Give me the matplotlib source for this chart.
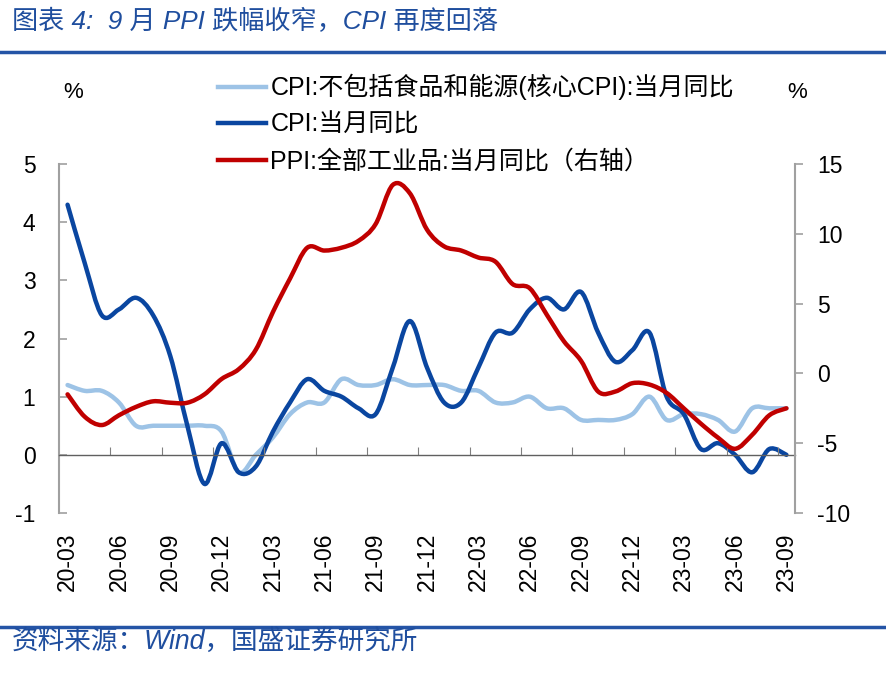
import matplotlib
matplotlib.use("Agg")
import matplotlib.pyplot as plt
from matplotlib.path import Path
from matplotlib.patches import PathPatch
import numpy as np

plt.rcParams['font.family'] = ['Liberation Sans', 'Noto Sans CJK SC', 'DejaVu Sans']
plt.rcParams['axes.unicode_minus'] = False

# 月份：2020-03 至 2023-09
months = ['20-03', '20-04', '20-05', '20-06', '20-07', '20-08', '20-09', '20-10', '20-11', '20-12',
          '21-01', '21-02', '21-03', '21-04', '21-05', '21-06', '21-07', '21-08', '21-09', '21-10',
          '21-11', '21-12', '22-01', '22-02', '22-03', '22-04', '22-05', '22-06', '22-07', '22-08',
          '22-09', '22-10', '22-11', '22-12', '23-01', '23-02', '23-03', '23-04', '23-05', '23-06',
          '23-07', '23-08', '23-09']

core_cpi = [1.2, 1.1, 1.1, 0.9, 0.5, 0.5, 0.5, 0.5, 0.5, 0.4,
            -0.3, 0.0, 0.3, 0.7, 0.9, 0.9, 1.3, 1.2, 1.2, 1.3,
            1.2, 1.2, 1.2, 1.1, 1.1, 0.9, 0.9, 1.0, 0.8, 0.8,
            0.6, 0.6, 0.6, 0.7, 1.0, 0.6, 0.7, 0.7, 0.6, 0.4,
            0.8, 0.8, 0.8]

cpi = [4.3, 3.3, 2.4, 2.5, 2.7, 2.4, 1.7, 0.5, -0.5, 0.2,
       -0.3, -0.2, 0.4, 0.9, 1.3, 1.1, 1.0, 0.8, 0.7, 1.5,
       2.3, 1.5, 0.9, 0.9, 1.5, 2.1, 2.1, 2.5, 2.7, 2.5,
       2.8, 2.1, 1.6, 1.8, 2.1, 1.0, 0.7, 0.1, 0.2, 0.0,
       -0.3, 0.1, 0.0]

ppi = [-1.5, -3.1, -3.7, -3.0, -2.4, -2.0, -2.1, -2.1, -1.5, -0.4,
       0.3, 1.7, 4.4, 6.8, 9.0, 8.8, 9.0, 9.5, 10.7, 13.5,
       12.9, 10.3, 9.1, 8.8, 8.3, 8.0, 6.4, 6.1, 4.2, 2.3,
       0.9, -1.3, -1.3, -0.7, -0.8, -1.4, -2.5, -3.6, -4.6, -5.4,
       -4.4, -3.0, -2.5]

C_CORE = '#9DC3E6'
C_CPI = '#0A46A0'
C_PPI = '#C00000'
C_TITLE = '#1F4E9E'


def smooth_path(xs, ys):
    # 类似 Excel 平滑线：Catmull-Rom 转三次贝塞尔
    pts = np.column_stack([xs, ys]).astype(float)
    n = len(pts)
    verts = [pts[0]]
    codes = [Path.MOVETO]
    for i in range(n - 1):
        p0 = pts[i - 1] if i > 0 else pts[i]
        p1 = pts[i]
        p2 = pts[i + 1]
        p3 = pts[i + 2] if i + 2 < n else pts[i + 1]
        c1 = p1 + (p2 - p0) / 6.0
        c2 = p2 - (p3 - p1) / 6.0
        verts += [c1, c2, p2]
        codes += [Path.CURVE4] * 3
    return Path(verts, codes)


def add_line(ax, xs, ys, color, lw, label):
    patch = PathPatch(smooth_path(xs, ys), facecolor='none', edgecolor=color,
                      lw=lw, capstyle='round', joinstyle='round')
    ax.add_patch(patch)
    # 图例用的代理线
    ax.plot([], [], color=color, lw=lw, label=label)


fig = plt.figure(figsize=(8.86, 6.76), dpi=100)
ax = fig.add_axes([59 / 886, 1 - 513 / 676, (795 - 59) / 886, (513 - 164) / 676])
ax2 = ax.twinx()

x = np.arange(len(months))
add_line(ax, x, core_cpi, C_CORE, 3.2, 'CPI:不包括食品和能源(核心CPI):当月同比')
add_line(ax, x, cpi, C_CPI, 3.2, 'CPI:当月同比')
add_line(ax2, x, ppi, C_PPI, 3.2, 'PPI:全部工业品:当月同比（右轴）')

ax.set_xlim(-0.5, len(months) - 0.5)
ax.set_ylim(-1, 5)
ax2.set_ylim(-10, 15)
ax.set_yticks(range(-1, 6))
ax2.set_yticks(range(-10, 16, 5))

grey = '#A0A0A0'
for a in (ax, ax2):
    for s in a.spines.values():
        s.set_visible(False)
ax.spines['left'].set_visible(True)
ax.spines['left'].set_color(grey)
ax.spines['left'].set_linewidth(1.5)
ax2.spines['right'].set_visible(True)
ax2.spines['right'].set_color(grey)
ax2.spines['right'].set_linewidth(1.5)

ax.tick_params(axis='y', direction='in', length=6, width=1.2, color=grey,
               labelsize=16.5, pad=17)
ax2.tick_params(axis='y', direction='out', length=6, width=1.2, color=grey,
                labelsize=16.5, pad=10)

# 零轴及类别分隔刻度
ax.spines['bottom'].set_visible(True)
ax.spines['bottom'].set_position(('data', 0))
ax.spines['bottom'].set_color('#606060')
ax.spines['bottom'].set_linewidth(1.0)
ax.set_xticks(np.arange(2.5, len(months) - 1, 3))
ax.tick_params(axis='x', direction='in', length=6, width=0.8, color='#808080',
               labelbottom=False)

sec = ax.secondary_xaxis(0.0)
sec.set_xticks(x[::3])
sec.set_xticklabels(months[::3], rotation=90)
sec.tick_params(axis='x', length=0, labelsize=16.5, pad=14)
sec.spines['bottom'].set_visible(False)

fig.text(73 / 886, 1 - 92 / 676, '%', fontsize=16, ha='center', va='center')
fig.text(797 / 886, 1 - 92 / 676, '%', fontsize=16, ha='center', va='center')

# 图例
h1, l1 = ax.get_legend_handles_labels()
h2, l2 = ax2.get_legend_handles_labels()
fig.legend(h1 + h2, l1 + l2, loc='upper left', bbox_to_anchor=(208 / 886, 1 - 64 / 676),
           frameon=False, fontsize=18, handlelength=1.9, handletextpad=0.2,
           labelspacing=0.5, borderaxespad=0)

# 标题与来源
fig.text(12 / 886, 1 - 22 / 676, '图表 4:  9 月 PPI 跌幅收窄，CPI 再度回落',
         fontsize=18.8, color=C_TITLE, style='italic', ha='left', va='center')
fig.add_artist(plt.Line2D([0, 1], [1 - 52 / 676] * 2, color='#2454A6', lw=2.5))
fig.add_artist(plt.Line2D([0, 1], [1 - 627 / 676] * 2, color='#2454A6', lw=2.5))
fig.text(12 / 886, 1 - 643 / 676, '资料来源：Wind，国盛证券研究所',
         fontsize=19.2, color=C_TITLE, style='italic', ha='left', va='center')

fig.savefig('out.png', dpi=100, facecolor='white')
